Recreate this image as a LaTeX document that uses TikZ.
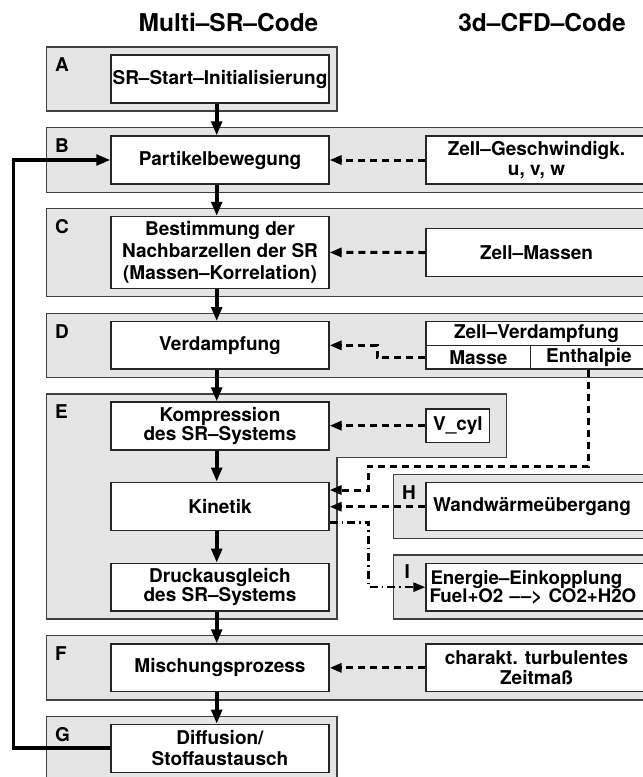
\documentclass[tikz,border=0pt]{standalone}
\usepackage{fontspec}
\setmainfont{TeX Gyre Heros}
\usetikzlibrary{arrows.meta}
\definecolor{panel}{gray}{0.9}
\begin{document}
\begin{tikzpicture}[x=1pt,y=-1pt,
  panelbox/.style={fill=panel,draw=black!75,line width=1.2pt},
  wbox/.style={draw=black!85,fill=white,line width=1.2pt,minimum height=48pt,inner sep=0pt,align=center,font=\fontsize{19}{20}\selectfont\bfseries},
  lbox/.style={wbox,minimum width=218pt},
  rbox/.style={wbox,minimum width=221pt},
  lett/.style={anchor=base west,inner sep=0pt,font=\fontsize{19}{20}\selectfont\bfseries},
  head/.style={anchor=base,inner sep=0pt,font=\fontsize{24.5}{26}\selectfont\bfseries},
  flow/.style={line width=3.7pt,-{Triangle[length=14pt,width=10.5pt]}},
  feed/.style={line width=3pt,dash pattern=on 7pt off 5pt,-{Triangle[length=12pt,width=9pt]}},
  dd/.style={line width=2.5pt,dash pattern=on 8pt off 4pt on 1.5pt off 4pt,-{Triangle[length=12pt,width=9pt]}}
]
\useasboundingbox (0,0) rectangle (643,777);
\clip (0,0) rectangle (643,777);

% headers
\node[head] (h1) at (228.5,31.7) {Multi–SR–Code};
\node[head] (h2) at (542,31.7) {3d–CFD–Code};

% panels
\path[panelbox] (46.5,47) rectangle (337,111);
\path[panelbox] (46.5,127.7) rectangle (650,192.3);
\path[panelbox] (46.5,208.3) rectangle (650,296.7);
\path[panelbox] (46.5,313.3) rectangle (650,377.7);
\path[panelbox] (46.5,394) -- (506.3,394) -- (506.3,457.7) -- (337,457.7) -- (337,619) -- (46.5,619) -- cycle;
\path[panelbox] (393.7,474.3) rectangle (650,538.3);
\path[panelbox] (393.7,555) rectangle (650,619);
\path[panelbox] (46.5,635.7) rectangle (650,700);
\path[panelbox] (46.5,716.7) rectangle (337,790);

% panel letters
\node[lett] (la) at (55,71.7) {A};
\node[lett] (lb) at (55,152.3) {B};
\node[lett] (lc) at (55,233) {C};
\node[lett] (ld) at (55,338) {D};
\node[lett] (le) at (55,418.7) {E};
\node[lett] (lf) at (55,660.4) {F};
\node[lett] (lg) at (55,741.4) {G};
\node[lett] (lh) at (402,499.3) {H};
\node[lett] (li) at (404.5,578) {I};

% left column
\node[lbox] (sr) at (220,79) {SR–Start–Initialisierung};
\node[lbox] (pb) at (220,160) {Partikelbewegung};
\node[lbox,minimum height=71.8pt,font=\fontsize{19}{22}\selectfont\bfseries] (nb) at (220,252.4) {Bestimmung der\\Nachbarzellen der SR\\(Massen–Korrelation)};
\node[lbox,minimum height=47.3pt] (vd) at (220,345.35) {Verdampfung};
\node[lbox,font=\fontsize{19}{19.5}\selectfont\bfseries] (ko) at (220,426) {Kompression\\des SR–Systems};
\node[lbox,minimum height=48.4pt] (ki) at (220,506.5) {Kinetik};
\node[lbox,minimum height=47.7pt,font=\fontsize{19}{19.5}\selectfont\bfseries] (dr) at (220,587.15) {Druckausgleich\\des SR–Systems};
\node[lbox,minimum height=47.7pt] (mi) at (220,667.85) {Mischungsprozess};
\node[lbox,font=\fontsize{19}{20.7}\selectfont\bfseries] (di) at (220,748.3) {Diffusion/\\Stoffaustausch};

% right column
\node[rbox] (zg) at (536.5,160) {Zell–Geschwindigk.\\u, v, w};
\node[rbox,minimum height=48.4pt] (zm) at (536.5,252.5) {Zell–Massen};
\node[rbox,minimum height=24pt] (zvt) at (536.5,333.7) {Zell–Verdampfung};
\node[wbox,minimum width=104.7pt,minimum height=23.3pt] (zvm) at (478.35,357.35) {Masse};
\node[wbox,minimum width=116.3pt,minimum height=23.3pt] (zve) at (588.85,357.35) {Enthalpie};
\node[wbox,minimum width=63.7pt,minimum height=33.3pt] (vc) at (457.85,425.65) {V\_cyl};
\node[rbox,text width=207pt,align=left] (ww) at (536.5,506.7) {Wandwärmeübergang};
\node[rbox,minimum height=47.7pt,text width=214pt,align=left,font=\fontsize{18.7}{18}\selectfont\bfseries] (en) at (536.5,587.15) {\hspace*{1pt}Energie–Einkopplung\\\mbox{Fuel+O2 –\kern1pt–> CO2+H2O}};
\node[rbox,minimum height=47.7pt] (ct) at (536.5,667.85) {charakt. turbulentes\\Zeitmaß};

% bend points
\coordinate (mbend) at (377,0);
\coordinate (ebend) at (368.7,466);

% main flow
\draw[flow] ([xshift=-3.3pt]sr.south) -- ([xshift=-3.3pt]pb.north);
\draw[flow] ([xshift=-3.3pt]pb.south) -- ([xshift=-3.3pt]nb.north);
\draw[flow] ([xshift=-3.3pt]nb.south) -- ([xshift=-3.3pt]vd.north);
\draw[flow] ([xshift=-3.3pt]vd.south) -- ([xshift=-3.3pt]ko.north);
\draw[flow] ([xshift=-3.3pt]ko.south) -- ([xshift=-3.3pt]ki.north);
\draw[flow] ([xshift=-3.3pt]ki.south) -- ([xshift=-3.3pt]dr.north);
\draw[flow] ([xshift=-3.3pt]dr.south) -- ([xshift=-3.3pt]mi.north);
\draw[flow] ([xshift=-3.3pt]mi.south) -- ([xshift=-3.3pt]di.north);
\draw[flow] (di.west) -- ++(-97,0) |- (pb.west);

% coupling
\draw[feed] (zg.west) -- (pb.east);
\draw[feed] (zm.west) -- (nb.east);
\draw[feed] (zvm.west) -- (zvm.west -| mbend) |- (vd.east);
\draw[feed] (vc.west) -- (vc.west -| ko.east);
\draw[feed] (zve.south) |- (ebend) |- ([yshift=16.5pt]ki.east);
\draw[feed] (ww.west) -- (ww.west -| ki.east);
\draw[dd] ([yshift=-15.8pt]ki.east) -- ([yshift=-15.8pt]ki.east -| ebend) |- (en.west);
\draw[feed] (ct.west) -- (mi.east);
\end{tikzpicture}
\end{document}
